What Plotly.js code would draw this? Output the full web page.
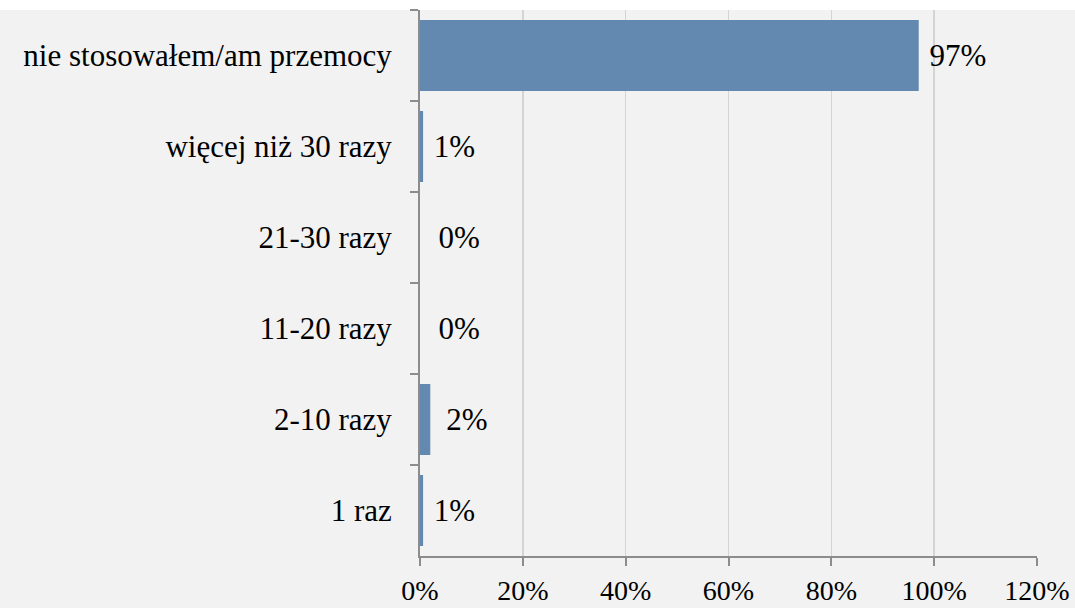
<!DOCTYPE html>
<html><head><meta charset="utf-8">
<script src="https://cdn.plot.ly/plotly-3.0.1.min.js"></script>
<style>html,body{margin:0;padding:0;background:#fff;}#chart{width:1075px;height:608px;}</style>
</head><body><div id="chart"></div>
<script>
const categories = ["nie stosowałem/am przemocy", "więcej niż 30 razy", "21-30 razy", "11-20 razy", "2-10 razy", "1 raz"];
const values = [0.97, 0.006, 0.0, 0.0, 0.02, 0.006];
const labels = [" 97%", " 1%", "  0%", "  0%", " \u20062%", " 1%"];
const xTickVals = [0, 0.2, 0.4, 0.6, 0.8, 1.0, 1.2];
const xTickText = ["0%", "20%", "40%", "60%", "80%", "100%", "120%"];

const font = "'Liberation Serif', 'Times New Roman', serif";
const trace = {
  type: 'bar', orientation: 'h',
  x: values, y: categories,
  text: labels, textposition: 'outside', cliponaxis: false,
  textfont: {family: font, size: 31, color: '#000'},
  marker: {color: '#6389b0'},
  width: 0.78, hoverinfo: 'none'
};
const layout = {
  width: 1075, height: 608,
  margin: {l: 420, r: 38, t: 10, b: 52},
  paper_bgcolor: '#f2f2f2', plot_bgcolor: '#f2f2f2',
  showlegend: false,
  font: {family: font, size: 31, color: '#000'},
  xaxis: {range: [0, 1.2], tickvals: xTickVals, ticktext: xTickText,
    showgrid: true, gridcolor: '#d4d4d4', gridwidth: 1.5,
    showline: true, linecolor: '#8c8c8c', linewidth: 2,
    ticks: 'outside', ticklen: 8, tickcolor: '#8c8c8c', tickwidth: 2,
    ticklabelstandoff: 0,
    tickfont: {family: font, size: 28, color: '#000'}, zeroline: false, fixedrange: true},
  yaxis: {autorange: 'reversed', type: 'category',
    showline: true, linecolor: '#8c8c8c', linewidth: 2,
    ticks: 'outside', tickson: 'boundaries', ticklen: 8, tickcolor: '#8c8c8c', tickwidth: 2,
    ticklabelstandoff: 20,
    tickfont: {family: font, size: 31, color: '#000'}, fixedrange: true},
  shapes: [{type: 'rect', xref: 'paper', yref: 'paper', x0: -1, x1: 1.2, y0: 1.0, y1: 1.1,
    fillcolor: '#ffffff', line: {width: 0}, layer: 'below'}]
};
Plotly.newPlot('chart', [trace], layout, {displayModeBar: false, staticPlot: true});
</script></body></html>
